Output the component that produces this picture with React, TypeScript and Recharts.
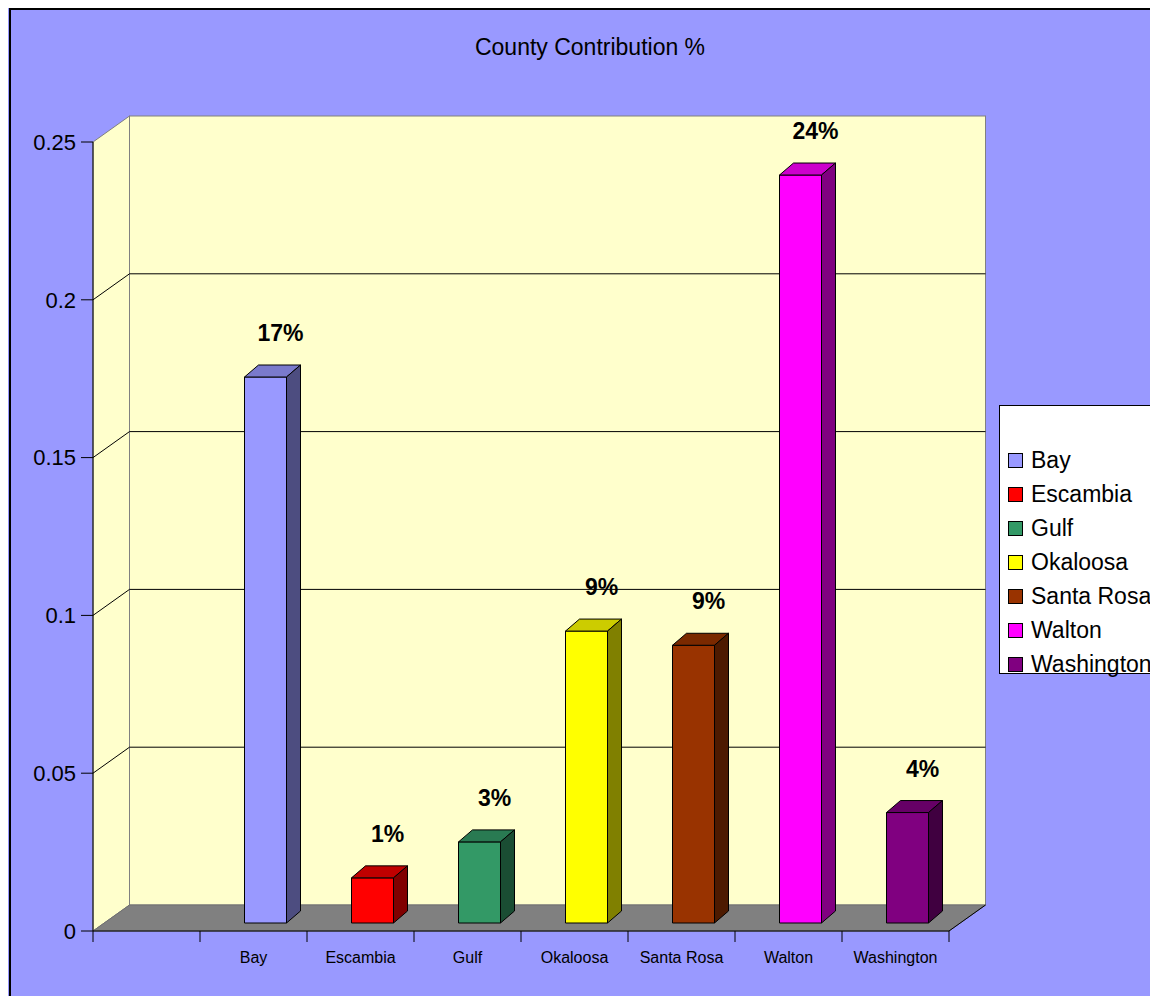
import React from 'react';
import { BarChart, Bar, XAxis, YAxis, CartesianGrid, ReferenceArea, Cell, LabelList, Legend } from 'recharts';

// first slot is empty, like the original sheet
const categories = ['', 'Bay', 'Escambia', 'Gulf', 'Okaloosa', 'Santa Rosa', 'Walton', 'Washington'];
const shares = [null, 0.173, 0.0143, 0.0257, 0.0925, 0.088, 0.237, 0.035];
const frontColors = ['none', '#9999FF', '#FF0000', '#339966', '#FFFF00', '#993300', '#FF00FF', '#800080'];
const topColors = ['none', '#7A7ACC', '#C00000', '#297A52', '#CCCC00', '#7A2900', '#CC00CC', '#660066'];
const sideColors = ['none', '#4D4D80', '#800000', '#1A4D33', '#808000', '#4D1A00', '#800080', '#400040'];
const yTicks = [0, 0.05, 0.1, 0.15, 0.2, 0.25];

const data = categories.map((name, i) => ({ name, share: shares[i] }));

const FONT = 'Arial, "Liberation Sans", sans-serif';
const BG = '#9999FF';
const WALL = '#FFFFCC';
const FLOOR = '#808080';

// perspective offsets
const WALL_DX = 36.5;
const WALL_DY = -26;
const BAR_DX = 11.5;
const BAR_DY = -8;
const DEPTH_DX = 14;
const DEPTH_DY = -12;

function catIndex(props: any) {
    const name = props.payload && props.payload.name;
    const i = categories.indexOf(name);
    return i >= 0 ? i : (props.index ?? 0) + 1;
}

function Walls(props: any) {
    const { x, y, width, height } = props;
    const b = y + height;
    return (
        <g>
            <polygon
                points={`${x},${b} ${x},${y} ${x + WALL_DX},${y + WALL_DY} ${x + WALL_DX},${b + WALL_DY}`}
                fill={WALL}
                stroke="#808080"
            />
            <rect x={x + WALL_DX} y={y + WALL_DY} width={width} height={height} fill={WALL} stroke="#808080" />
            <polygon
                points={`${x},${b} ${x + WALL_DX},${b + WALL_DY} ${x + width + WALL_DX},${b + WALL_DY} ${x + width},${b}`}
                fill={FLOOR}
                stroke="#707070"
            />
            <line x1={x + width} y1={b} x2={x + width + WALL_DX} y2={b + WALL_DY} stroke="#000" />
        </g>
    );
}

function gridLine(p: any) {
    const { x1, y1, x2, y, height } = p;
    if (typeof y === 'number' && (Math.abs(y1 - y) < 0.5 || Math.abs(y1 - (y + height)) < 0.5)) {
        return <g />;
    }
    return (
        <g>
            <line x1={x1} y1={y1} x2={x1 + WALL_DX} y2={y1 + WALL_DY} stroke="#000" />
            <line x1={x1 + WALL_DX} y1={y1 + WALL_DY} x2={x2 + WALL_DX} y2={y1 + WALL_DY} stroke="#000" />
        </g>
    );
}

function Bar3D(props: any) {
    const { x, y, width, height } = props;
    if (!height || height <= 0) return null;
    const i = catIndex(props);
    const fx = x + BAR_DX;
    const fy = y + BAR_DY;
    return (
        <g stroke="#000" strokeWidth={1} strokeLinejoin="round">
            <rect x={fx} y={fy} width={width} height={height} fill={frontColors[i]} />
            <polygon
                points={`${fx},${fy} ${fx + DEPTH_DX},${fy + DEPTH_DY} ${fx + width + DEPTH_DX},${fy + DEPTH_DY} ${fx + width},${fy}`}
                fill={topColors[i]}
            />
            <polygon
                points={`${fx + width},${fy} ${fx + width + DEPTH_DX},${fy + DEPTH_DY} ${fx + width + DEPTH_DX},${fy + height + DEPTH_DY} ${fx + width},${fy + height}`}
                fill={sideColors[i]}
            />
        </g>
    );
}

function BarLabel(props: any) {
    const { x, y, width, value } = props;
    if (value == null) return null;
    return (
        <text
            x={x + BAR_DX + width / 2 + 15}
            y={y + BAR_DY - 36}
            textAnchor="middle"
            fontFamily={FONT}
            fontWeight="bold"
            fontSize={23}
            fill="#000"
        >
            {`${Math.round(value * 100)}%`}
        </text>
    );
}

function XTick(props: any) {
    const { x, y, payload, index } = props;
    const half = payload && typeof payload.offset === 'number' && payload.offset > 0 ? payload.offset : 53.5;
    return (
        <g>
            <line x1={x - half} y1={y} x2={x - half} y2={y + 11} stroke="#000" />
            {index === categories.length - 1 && (
                <line x1={x + half} y1={y} x2={x + half} y2={y + 11} stroke="#000" />
            )}
            <text x={x} y={y + 32} textAnchor="middle" fontFamily={FONT} fontSize={16} fill="#000">
                {payload.value}
            </text>
        </g>
    );
}

function LegendBox() {
    return (
        <div
            style={{
                width: 200,
                height: 269,
                background: '#fff',
                border: '1px solid #000',
                boxSizing: 'border-box',
                paddingTop: 37,
                paddingLeft: 8,
                fontFamily: FONT,
                fontSize: 23,
                color: '#000',
            }}
        >
            {categories.slice(1).map((c, i) => (
                <div key={c} style={{ height: 34, display: 'flex', alignItems: 'center', whiteSpace: 'nowrap' }}>
                    <span
                        style={{
                            display: 'inline-block',
                            width: 13,
                            height: 13,
                            background: frontColors[i + 1],
                            border: '1px solid #000',
                            marginRight: 8,
                        }}
                    />
                    {c}
                </div>
            ))}
        </div>
    );
}

export default function App() {
    return (
        <div
            style={{
                position: 'fixed',
                left: 8,
                top: 8,
                width: 1142,
                height: 988,
                overflow: 'hidden',
                background: BG,
            }}
        >
            <div
                style={{
                    position: 'absolute',
                    left: 1,
                    top: 0,
                    width: 1200,
                    height: 1200,
                    border: '2px solid #000',
                    boxSizing: 'border-box',
                    pointerEvents: 'none',
                }}
            />
            <div
                style={{
                    position: 'absolute',
                    left: 0,
                    top: 28,
                    width: 1164,
                    textAlign: 'center',
                    fontFamily: FONT,
                    fontSize: 23,
                    lineHeight: '23px',
                    color: '#000',
                }}
            >
                County Contribution %
            </div>
            <BarChart
                width={1142}
                height={988}
                data={data}
                margin={{ top: 134, right: 201, left: 0, bottom: 35 }}
                barSize={42}
            >
                <ReferenceArea y1={0} y2={0.25} shape={<Walls />} ifOverflow="visible" zIndex={-200} />
                <CartesianGrid vertical={false} horizontal={gridLine} stroke="#000" />
                <XAxis
                    dataKey="name"
                    interval={0}
                    tickLine={false}
                    tickSize={0}
                    tickMargin={0}
                    height={30}
                    axisLine={{ stroke: '#000' }}
                    tick={<XTick />}
                />
                <YAxis
                    domain={[0, 0.25]}
                    ticks={yTicks}
                    width={85}
                    tickSize={12}
                    tickMargin={5}
                    axisLine={{ stroke: '#000' }}
                    tickLine={{ stroke: '#000' }}
                    tick={{ fill: '#000', fontSize: 22, fontFamily: FONT }}
                />
                <Bar dataKey="share" isAnimationActive={false} shape={<Bar3D />}>
                    {data.map((d, i) => (
                        <Cell key={i} fill={frontColors[i]} />
                    ))}
                    <LabelList dataKey="share" content={<BarLabel />} />
                </Bar>
                <Legend
                    layout="vertical"
                    align="center"
                    verticalAlign="middle"
                    content={<LegendBox />}
                    wrapperStyle={{ left: 991, top: 397, width: 200, height: 269 }}
                />
            </BarChart>
        </div>
    );
}
